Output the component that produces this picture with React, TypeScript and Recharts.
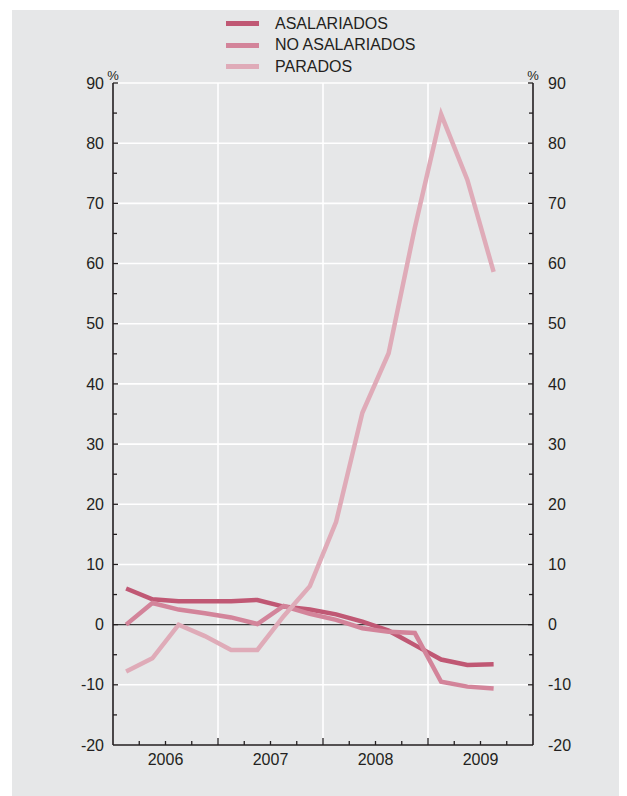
import { LineChart, Line, XAxis, YAxis, ReferenceLine } from "recharts";

const quarters = [
  "I-06", "II-06", "III-06", "IV-06",
  "I-07", "II-07", "III-07", "IV-07",
  "I-08", "II-08", "III-08", "IV-08",
  "I-09", "II-09", "III-09",
];
const asalariados = [6.0, 4.2, 3.9, 3.9, 3.9, 4.1, 3.0, 2.5, 1.7, 0.5, -1.0, -3.4, -5.8, -6.7, -6.6];
const noAsalariados = [0.0, 3.6, 2.5, 1.9, 1.2, 0.1, 3.1, 1.8, 0.8, -0.6, -1.2, -1.4, -9.5, -10.3, -10.6];
const parados = [-7.8, -5.6, 0.0, -1.9, -4.2, -4.2, 1.4, 6.4, 17.1, 35.2, 45.1, 66.0, 84.8, 73.9, 58.6];
const years = ["2006", "2007", "2008", "2009"];
const yTicks = [-20, -15, -10, -5, 0, 5, 10, 15, 20, 25, 30, 35, 40, 45, 50, 55, 60, 65, 70, 75, 80, 85, 90];
const gridValues = [10, 20, 30, 40, 50, 60, 70, 80, 90, -10];

const series = [
  { key: "asal", name: "ASALARIADOS", color: "#c05874" },
  { key: "noasal", name: "NO ASALARIADOS", color: "#d3849a" },
  { key: "parados", name: "PARADOS", color: "#dfabb8" },
];

const data = quarters.map((q, i) => ({
  q,
  x: i + 0.5,
  asal: asalariados[i],
  noasal: noAsalariados[i],
  parados: parados[i],
}));

const W = 615;
const H = 786;
const LEFT = 101;
const RIGHT = 521;
const BOTTOM = 735;
const FONT = "'Liberation Sans', Arial, sans-serif";
const TEXT = "#231f20";

function XTick(props: any) {
  const v = props.payload.value;
  const major = v % 4 === 0;
  const label = v % 4 === 2 ? years[(v - 2) / 4] : null;
  return (
    <g>
      {v > 0 && v < 16 && (
        <line x1={props.x} x2={props.x} y1={BOTTOM} y2={BOTTOM - (major ? 7 : 4)} stroke="#231f20" strokeWidth={1.3} />
      )}
      {label && (
        <text x={props.x} y={BOTTOM + 14} dy="0.35em" textAnchor="middle" fontSize={16} fill={TEXT} fontFamily={FONT}>
          {label}
        </text>
      )}
    </g>
  );
}

function LeftTick(props: any) {
  const v = props.payload.value;
  const major = v % 10 === 0;
  return (
    <g>
      {v !== -20 && <line x1={LEFT} x2={LEFT + (major ? 5 : 4)} y1={props.y} y2={props.y} stroke="#231f20" strokeWidth={1.3} />}
      {major && (
        <text x={LEFT - 9} y={props.y} dy="0.35em" textAnchor="end" fontSize={16} fill={TEXT} fontFamily={FONT}>
          {v}
        </text>
      )}
    </g>
  );
}

function RightTick(props: any) {
  const v = props.payload.value;
  const major = v % 10 === 0;
  return (
    <g>
      {v !== -20 && <line x1={RIGHT} x2={RIGHT - (major ? 5 : 4)} y1={props.y} y2={props.y} stroke="#231f20" strokeWidth={1.3} />}
      {major && (
        <text x={RIGHT + 15} y={props.y} dy="0.35em" textAnchor="start" fontSize={16} fill={TEXT} fontFamily={FONT}>
          {v}
        </text>
      )}
    </g>
  );
}

export default function App() {
  return (
    <div
      style={{
        position: "relative",
        marginLeft: 4,
        marginTop: 2,
        width: W,
        height: H,
        background: "#e6e7e8",
        fontFamily: FONT,
      }}
    >
      <div style={{ position: "absolute", left: 214, top: 3 }}>
        {series.map((s) => (
          <div key={s.key} style={{ display: "flex", alignItems: "center", height: 21.5 }}>
            <div style={{ width: 33, height: 5, background: s.color, marginRight: 16 }} />
            <span style={{ fontSize: 16, color: TEXT }}>{s.name}</span>
          </div>
        ))}
      </div>
      <LineChart width={W} height={H} data={data} margin={{ top: 73, right: 0, bottom: 0, left: 0 }}>
        {gridValues.map((g) => (
          <ReferenceLine key={g} yAxisId="l" y={g} stroke="#ffffff" strokeWidth={1.6} />
        ))}
        {[4, 8, 12].map((v) => (
          <ReferenceLine key={"v" + v} yAxisId="l" x={v} stroke="#ffffff" strokeWidth={1.6} />
        ))}
        <ReferenceLine yAxisId="l" y={0} stroke="#3a3a3a" strokeWidth={1.2} />
        <XAxis
          dataKey="x"
          type="number"
          domain={[0, 16]}
          ticks={[0, 1, 2, 3, 4, 5, 6, 7, 8, 9, 10, 11, 12, 13, 14, 15, 16]}
          interval={0}
          height={51}
          tickLine={false}
          axisLine={{ stroke: "#231f20", strokeWidth: 1.6 }}
          tick={<XTick />}
        />
        <YAxis
          yAxisId="l"
          domain={[-20, 90]}
          ticks={yTicks}
          interval={0}
          width={101}
          tickLine={false}
          axisLine={{ stroke: "#231f20", strokeWidth: 1.6 }}
          tick={<LeftTick />}
          label={{
            content: () => (
              <text x={LEFT} y={65} dy="0.35em" textAnchor="middle" fontSize={13} fill={TEXT} fontFamily={FONT}>
                %
              </text>
            ),
          }}
        />
        <YAxis
          yAxisId="r"
          orientation="right"
          domain={[-20, 90]}
          ticks={yTicks}
          interval={0}
          width={94}
          tickLine={false}
          axisLine={{ stroke: "#231f20", strokeWidth: 1.6 }}
          tick={<RightTick />}
          label={{
            content: () => (
              <text x={RIGHT} y={65} dy="0.35em" textAnchor="middle" fontSize={13} fill={TEXT} fontFamily={FONT}>
                %
              </text>
            ),
          }}
        />
        <Line
          yAxisId="r"
          dataKey="parados"
          stroke="none"
          dot={false}
          activeDot={false}
          legendType="none"
          isAnimationActive={false}
        />
        {series.map((s) => (
          <Line
            key={s.key}
            yAxisId="l"
            type="linear"
            dataKey={s.key}
            name={s.name}
            stroke={s.color}
            strokeWidth={4.5}
            dot={false}
            activeDot={false}
            isAnimationActive={false}
          />
        ))}
      </LineChart>
    </div>
  );
}
